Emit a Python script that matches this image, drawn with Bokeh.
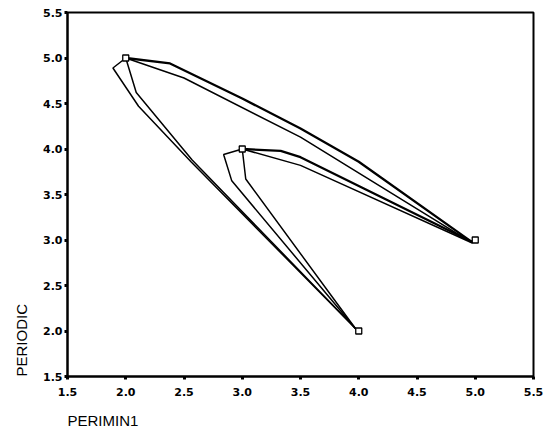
from bokeh.plotting import figure
from bokeh.models import Range1d, FixedTicker, Title
from bokeh.embed import file_html
from bokeh.resources import INLINE

# ---- data ----
tick_values = [1.5, 2.0, 2.5, 3.0, 3.5, 4.0, 4.5, 5.0, 5.5]
tick_labels = ["1.5", "2.0", "2.5", "3.0", "3.5", "4.0", "4.5", "5.0", "5.5"]

point_x = [2.0, 3.0, 4.0, 5.0]
point_y = [5.0, 4.0, 2.0, 3.0]

# paths from (2,5) to (5,3)
path1_x = [2.0, 2.38, 3.0, 3.5, 4.0, 4.97, 5.0]
path1_y = [5.0, 4.94, 4.555, 4.225, 3.86, 2.98, 3.0]
path2_x = [2.0, 2.5, 3.5, 4.97, 5.0]
path2_y = [5.0, 4.78, 4.13, 2.97, 3.0]
# paths from (3,4) to (5,3)
path3_x = [3.0, 3.33, 3.5, 4.97, 5.0]
path3_y = [4.0, 3.98, 3.91, 2.98, 3.0]
path4_x = [3.0, 3.5, 4.97, 5.0]
path4_y = [4.0, 3.82, 2.97, 3.0]
# paths from (2,5) to (4,2)
path5_x = [2.0, 1.89, 2.11, 2.56, 3.97, 4.0]
path5_y = [5.0, 4.89, 4.47, 3.86, 2.03, 2.0]
path6_x = [2.0, 2.09, 2.57, 3.97, 4.0]
path6_y = [5.0, 4.62, 3.88, 2.03, 2.0]
# paths from (3,4) to (4,2)
path7_x = [3.0, 2.84, 2.91, 3.97, 4.0]
path7_y = [4.0, 3.94, 3.65, 2.03, 2.0]
path8_x = [3.0, 3.03, 3.97, 4.0]
path8_y = [4.0, 3.67, 2.03, 2.0]

x_title = "PERIMIN1"
y_title = "PERIODIC"

p = figure(width=545, height=441,
           x_range=Range1d(1.5, 5.5), y_range=Range1d(1.5, 5.5),
           output_backend="svg", toolbar_location=None,
           min_border_left=67, min_border_right=12,
           min_border_top=12, min_border_bottom=65)

p.background_fill_color = "white"
p.border_fill_color = "white"
p.outline_line_color = "black"
p.outline_line_width = 2
p.xgrid.grid_line_color = None
p.ygrid.grid_line_color = None

for ax in (p.xaxis, p.yaxis):
    ax.ticker = FixedTicker(ticks=tick_values)
    ax.major_label_overrides = {v: l for v, l in zip(tick_values, tick_labels)}
    ax.axis_line_color = "black"
    ax.axis_line_width = 2
    ax.major_tick_in = 0
    ax.major_tick_out = 3
    ax.major_tick_line_width = 3
    ax.major_tick_line_color = "black"
    ax.minor_tick_line_color = None
    ax.major_label_text_font = "DejaVu Sans"
    ax.major_label_text_font_style = "bold"
    ax.major_label_text_font_size = "11px"
    ax.major_label_text_color = "black"

p.yaxis.major_label_standoff = 2
p.xaxis.major_label_standoff = 8

lw_thin = 1.5
lw_thick = 2.3
p.line(path1_x, path1_y, line_color="black", line_width=lw_thick)
p.line(path2_x, path2_y, line_color="black", line_width=lw_thin)
p.line(path3_x, path3_y, line_color="black", line_width=lw_thick)
p.line(path4_x, path4_y, line_color="black", line_width=lw_thin)
p.line(path5_x, path5_y, line_color="black", line_width=lw_thin)
p.line(path6_x, path6_y, line_color="black", line_width=lw_thin)
p.line(path7_x, path7_y, line_color="black", line_width=lw_thin)
p.line(path8_x, path8_y, line_color="black", line_width=lw_thin)

p.scatter(point_x, point_y, marker="square", size=6, line_color="black",
          line_width=1.3, fill_color="white")

tx = Title(text=x_title, align="left", standoff=23,
           text_font="Liberation Sans", text_font_size="15px",
           text_font_style="normal", text_color="black")
p.add_layout(tx, "below")
ty = Title(text=y_title, align="left", standoff=21,
           text_font="Liberation Sans", text_font_size="15px",
           text_font_style="normal", text_color="black")
p.add_layout(ty, "left")

open("out.html", "w").write(file_html(p, INLINE))
